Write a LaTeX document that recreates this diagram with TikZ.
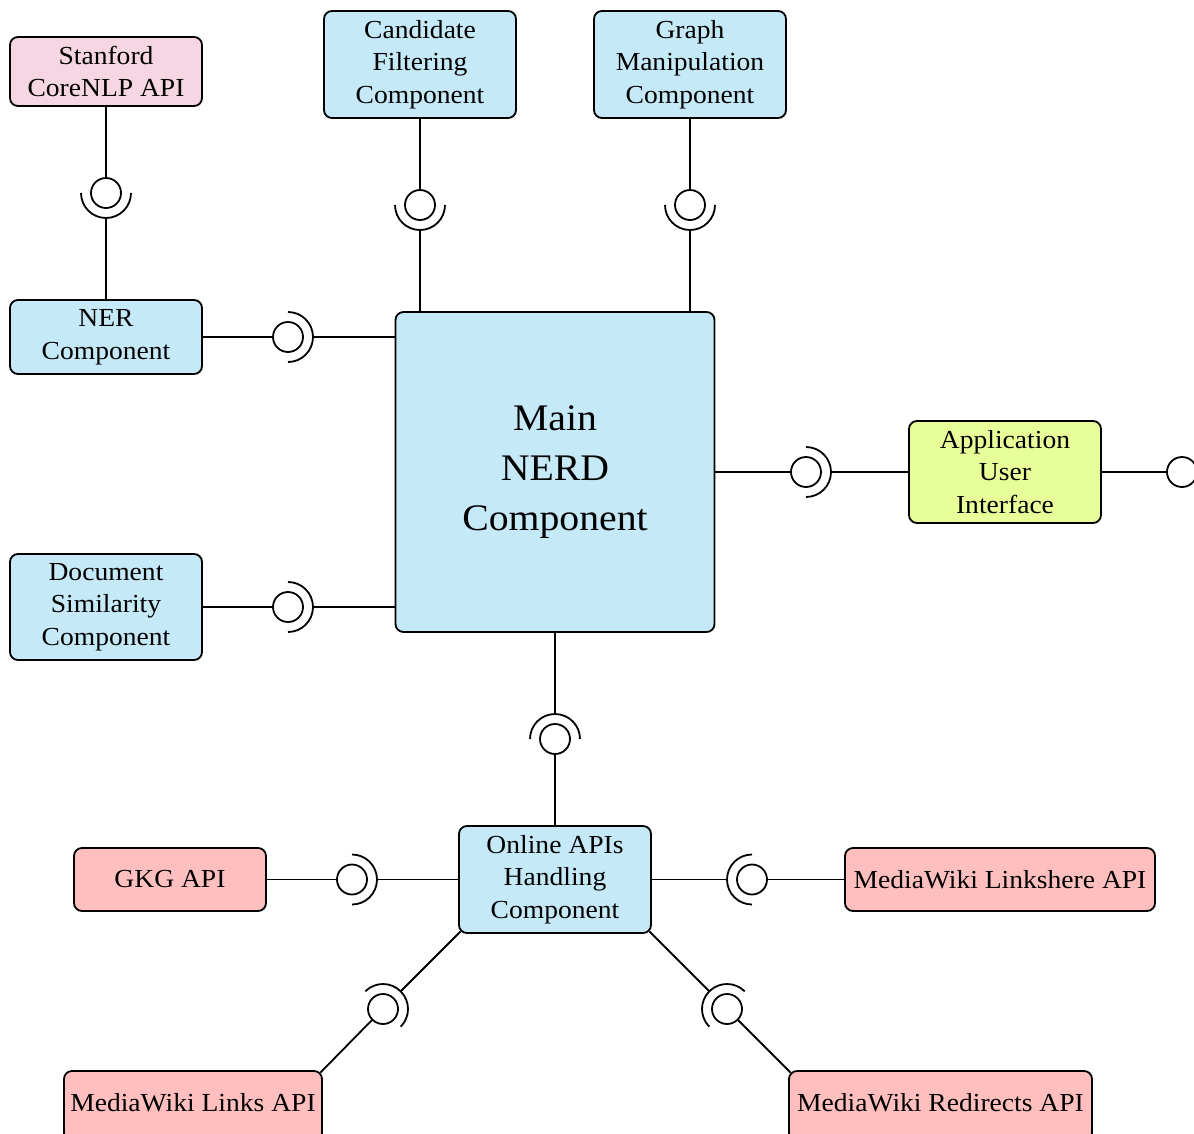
\documentclass[tikz,border=0pt]{standalone}
\usepackage{fontspec}
\setmainfont{Liberation Serif}[FakeStretch=1.06]
\usetikzlibrary{calc}

\definecolor{compblue}{HTML}{C6E9F8}
\definecolor{apipink}{HTML}{FFBFBF}
\definecolor{nlppink}{HTML}{F5D6E2}
\definecolor{uilime}{HTML}{E8FF99}

% provided/required interface: ball of radius 15 with a socket of radius 25
% #1 name, #2 centre, #3 direction in which the socket faces
\newcommand\iface[3]{%
  \coordinate (#1) at (#2);
  \draw[conn] (#1) circle[radius=15];
  \draw[conn] ($(#1)+(#3-90:25)$) arc[start angle=#3-90, end angle=#3+90, radius=25];
  \coordinate (#1-ball) at ($(#1)+(#3+180:15)$);
  \coordinate (#1-sock) at ($(#1)+(#3:25)$);
}

\begin{document}
\begin{tikzpicture}[x=1pt,y=-1pt,
  conn/.style={line width=1.8pt, black},
  comp/.style={draw, line width=1.8pt, rounded corners=8pt, align=center,
    inner sep=0pt, font=\fontsize{26}{32.5}\selectfont, text=black},
  blue/.style={comp, fill=compblue},
  api/.style={comp, fill=apipink},
  label/.style={font=\fontsize{26}{32.5}\selectfont, text=black},
]
\useasboundingbox (0,0) rectangle (1194,1133);
\clip (0,0) rectangle (1194,1133);

% components
\node[comp, fill=nlppink, minimum width=192, minimum height=69] (stan) at (106,71.5) {Stanford\\CoreNLP API};
\node[blue, minimum width=192, minimum height=107] (cand) at (420,64.5) {Candidate\\Filtering\\Component};
\node[blue, minimum width=192, minimum height=107] (graph) at (690,64.5) {Graph\\Manipulation\\Component};
\node[blue, minimum width=192, minimum height=74] (ner) at (106,337) {NER\\Component};
\node[blue, minimum width=319, minimum height=320, font=\fontsize{37.5}{50}\selectfont] (main) at (555,472) {Main\\NERD\\Component};
\node[blue, minimum width=192, minimum height=106] (doc) at (106,607) {Document\\Similarity\\Component};
\node[comp, fill=uilime, minimum width=192, minimum height=102] (app) at (1005,472) {Application\\User\\Interface};
\node[blue, minimum width=192, minimum height=107] (online) at (555,879.5) {Online APIs\\Handling\\Component};
\node[api, minimum width=192, minimum height=63] (gkg) at (170,879.5) {GKG API};
\node[api, minimum width=310, minimum height=63] (lhere) at (1000,879.5) {MediaWiki Linkshere API};
% boxes running past the lower edge
\node[api, minimum width=258, minimum height=70] (links) at (193,1106) {};
\node[api, minimum width=303, minimum height=70] (redir) at (940.5,1106) {};
\node[label] (linkst) at (links.center |- 0,1103) {MediaWiki Links API};
\node[label] (redirt) at (redir.center |- 0,1103) {MediaWiki Redirects API};

% interfaces
\iface{i1}{106,193}{90}
\draw[conn] (stan.south) -- (i1-ball);
\draw[conn] (i1-sock) -- (ner.north);

\iface{i2}{420,205}{90}
\draw[conn] (cand.south) -- (i2-ball);
\draw[conn] (i2-sock) -- (i2 |- main.north);

\iface{i3}{690,205}{90}
\draw[conn] (graph.south) -- (i3-ball);
\draw[conn] (i3-sock) -- (i3 |- main.north);

\iface{i4}{288,337}{0}
\draw[conn] (ner.east) -- (i4-ball);
\draw[conn] (i4-sock) -- (main.west |- i4);

\iface{i5}{288,607}{0}
\draw[conn] (doc.east) -- (i5-ball);
\draw[conn] (i5-sock) -- (main.west |- i5);

\iface{i6}{806,472}{0}
\draw[conn] (main.east) -- (i6-ball);
\draw[conn] (i6-sock) -- (app.west);

\coordinate (uiball) at (1182,472);
\draw[conn] (uiball) circle[radius=15];
\draw[conn] (app.east) -- ($(uiball)+(-15,0)$);

\iface{i7}{555,739}{270}
\draw[conn] (main.south) -- (i7-sock);
\draw[conn] (i7-ball) -- (online.north);

\iface{i8}{352,879.5}{0}
\draw[conn] (gkg.east) -- (i8-ball);
\draw[conn] (i8-sock) -- (online.west);

\iface{i9}{752,879.5}{180}
\draw[conn] (online.east) -- (i9-sock);
\draw[conn] (i9-ball) -- (lhere.west);

\iface{i10}{383,1009}{-45}
\draw[conn] ($(online.south west)+(2.5,-2.5)$) -- (i10-sock);
\draw[conn] (i10-ball) -- ($(links.north east)+(-2.5,2.5)$);

\iface{i11}{727,1009}{225}
\draw[conn] ($(online.south east)+(-2.5,-2.5)$) -- (i11-sock);
\draw[conn] (i11-ball) -- ($(redir.north west)+(2.5,2.5)$);
\end{tikzpicture}
\end{document}
